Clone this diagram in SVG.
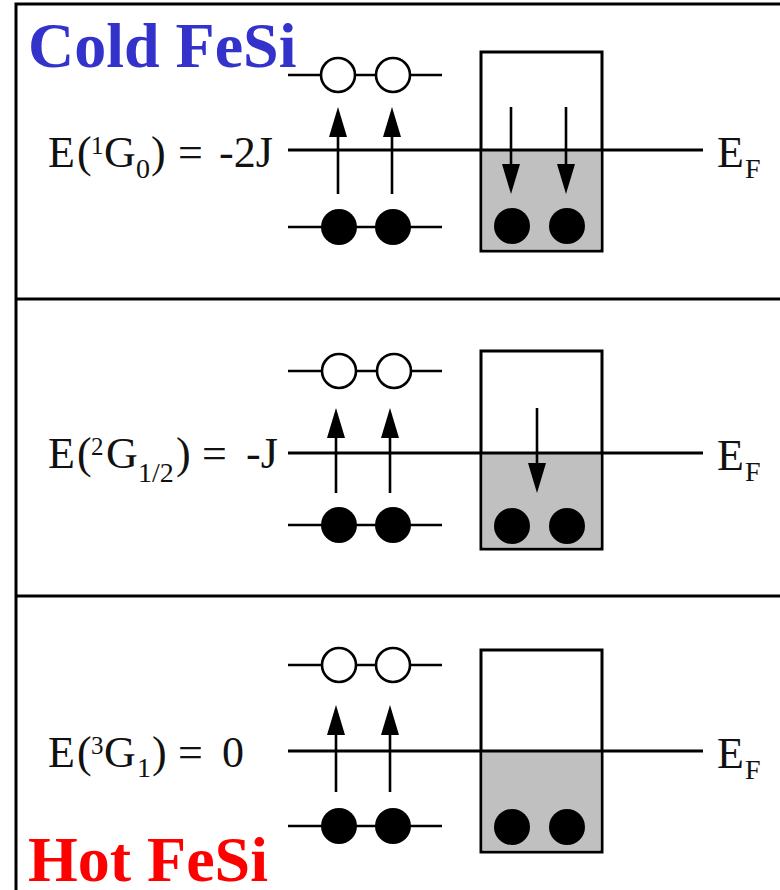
<svg xmlns="http://www.w3.org/2000/svg" width="780" height="890" viewBox="0 0 780 890">
<defs>
<style>
.lvl{stroke:#000;stroke-width:2.6;fill:none}
.ef{stroke:#000;stroke-width:3;fill:none}
.open{fill:#fff;stroke:#000;stroke-width:2.6}
.full{fill:#000}
.box{fill:#fff;stroke:#000;stroke-width:3}
.gray{fill:#c0c0c0}
.arr{stroke:#000;stroke-width:2.6;fill:none;marker-end:url(#ah)}
.m{font-family:"Liberation Serif","DejaVu Serif",serif;font-size:44px;fill:#111}
.s{font-size:28px}
.sup{font-size:25px}
.title{font-family:"Liberation Serif","Times New Roman",serif;font-weight:bold;font-size:64px}
.div{stroke:#000;stroke-width:3}
</style>
<marker id="ah" markerUnits="userSpaceOnUse" markerWidth="32" markerHeight="20" refX="10" refY="9" orient="auto">
<path d="M0,0 L30,9 L0,18 Z" fill="#000"/>
</marker>
</defs>
<rect x="0" y="0" width="780" height="890" fill="#fff"/>
<rect x="16" y="4" width="800" height="900" fill="none" stroke="#000" stroke-width="3"/>
<line class="div" x1="16" y1="299" x2="780" y2="299"/>
<line class="div" x1="16" y1="596" x2="780" y2="596"/>

<g id="panel1">
<rect class="box" x="481" y="52" width="121" height="199"/>
<rect class="gray" x="482.5" y="150" width="118" height="99.5"/>
<line class="lvl" x1="288" y1="75" x2="442" y2="75"/>
<circle class="open" cx="338" cy="75" r="17"/>
<circle class="open" cx="393" cy="75" r="17"/>
<line class="ef" x1="288" y1="150" x2="703" y2="150"/>
<line class="lvl" x1="288" y1="227" x2="442" y2="227"/>
<circle class="full" cx="339" cy="227" r="18"/>
<circle class="full" cx="393" cy="227" r="18"/>
<circle class="full" cx="512" cy="226" r="18"/>
<circle class="full" cx="567" cy="226" r="18"/>
<text class="m" y="167"><tspan x="48">E</tspan><tspan x="77">(</tspan><tspan x="91" y="154" class="sup">1</tspan><tspan x="104" y="167">G</tspan><tspan x="136" y="178" class="s">0</tspan><tspan x="151" y="167">)</tspan><tspan x="178">=</tspan><tspan x="219">-2J</tspan></text>
<text class="m" y="167"><tspan x="717">E</tspan><tspan x="745" y="178" class="s">F</tspan></text>
</g>

<g id="panel2">
<rect class="box" x="481" y="351" width="121" height="198"/>
<rect class="gray" x="482.5" y="453" width="118" height="94.5"/>
<line class="lvl" x1="288" y1="371" x2="442" y2="371"/>
<circle class="open" cx="339" cy="371" r="17"/>
<circle class="open" cx="394" cy="371" r="17"/>
<line class="ef" x1="288" y1="453" x2="703" y2="453"/>
<line class="lvl" x1="288" y1="525" x2="442" y2="525"/>
<circle class="full" cx="339" cy="525" r="18"/>
<circle class="full" cx="393" cy="525" r="18"/>
<circle class="full" cx="512" cy="526" r="18"/>
<circle class="full" cx="567" cy="526" r="18"/>
<text class="m" y="468"><tspan x="48">E</tspan><tspan x="77">(</tspan><tspan x="91" y="455" class="sup">2</tspan><tspan x="106" y="468">G</tspan><tspan x="138" y="482" class="s">1/2</tspan><tspan x="176" y="468">)</tspan><tspan x="202">=</tspan><tspan x="246">-J</tspan></text>
<text class="m" y="470"><tspan x="717">E</tspan><tspan x="745" y="481" class="s">F</tspan></text>
</g>

<g id="panel3">
<rect class="box" x="481" y="650" width="121" height="202"/>
<rect class="gray" x="482.5" y="751" width="118" height="99.5"/>
<line class="lvl" x1="288" y1="665" x2="442" y2="665"/>
<circle class="open" cx="339" cy="665" r="17"/>
<circle class="open" cx="393" cy="665" r="17"/>
<line class="ef" x1="288" y1="751" x2="703" y2="751"/>
<line class="lvl" x1="288" y1="826" x2="442" y2="826"/>
<circle class="full" cx="339" cy="826" r="18"/>
<circle class="full" cx="393" cy="826" r="18"/>
<circle class="full" cx="512" cy="827" r="18"/>
<circle class="full" cx="567" cy="827" r="18"/>
<text class="m" y="767"><tspan x="48">E</tspan><tspan x="77">(</tspan><tspan x="91" y="754" class="sup">3</tspan><tspan x="104" y="767">G</tspan><tspan x="137" y="777" class="s">1</tspan><tspan x="152" y="767">)</tspan><tspan x="178">=</tspan><tspan x="222">0</tspan></text>
<text class="m" y="768"><tspan x="717">E</tspan><tspan x="745" y="779" class="s">F</tspan></text>
</g>

<g id="connectors">
<line class="arr" x1="338" y1="194" x2="338" y2="127"/>
<line class="arr" x1="392" y1="194" x2="392" y2="127"/>
<line class="arr" x1="511" y1="107" x2="511" y2="174"/>
<line class="arr" x1="566" y1="107" x2="566" y2="174"/>
<line class="arr" x1="336" y1="493" x2="336" y2="428"/>
<line class="arr" x1="390" y1="493" x2="390" y2="428"/>
<line class="arr" x1="537" y1="408" x2="537" y2="473"/>
<line class="arr" x1="336" y1="792" x2="336" y2="725"/>
<line class="arr" x1="390" y1="792" x2="390" y2="725"/>
</g>

<g id="title-cold"><text class="title" x="28" y="67" fill="#3333cc">Cold FeSi</text></g>
<g id="title-hot"><text class="title" x="28" y="881" fill="#ff0000">Hot FeSi</text></g>
</svg>
